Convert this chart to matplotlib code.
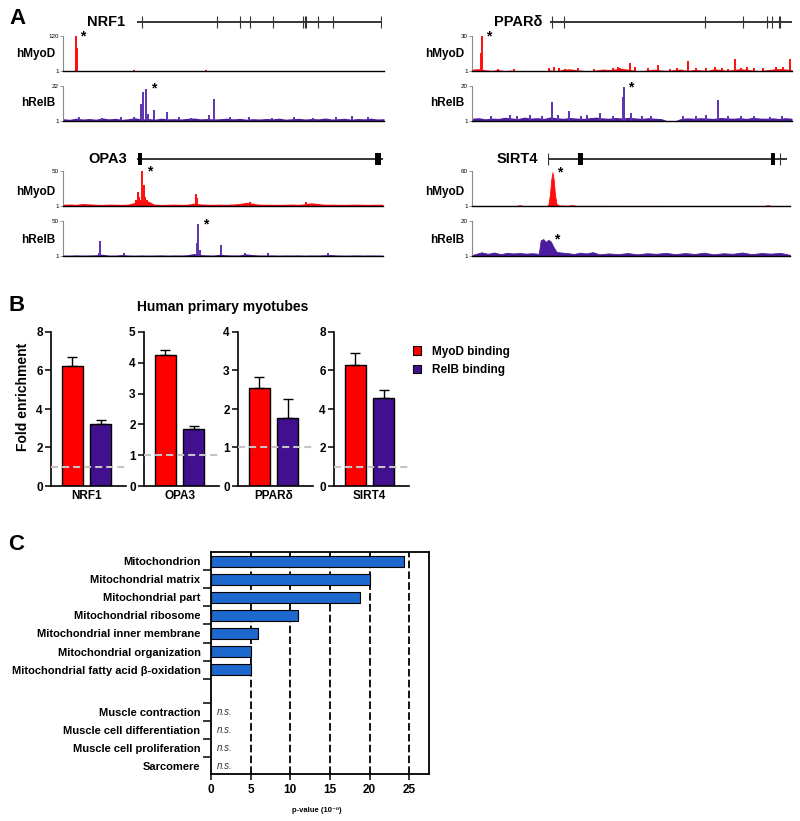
import matplotlib
matplotlib.use('Agg')
import matplotlib.pyplot as plt
import numpy as np
from matplotlib.patches import Patch

plt.rcParams['font.family'] = ['Liberation Sans', 'DejaVu Sans']

W, H = 800, 821
fig = plt.figure(figsize=(8, 8.21), dpi=100)


def px_axes(l, t, r, b):
    return fig.add_axes([l / W, 1 - b / H, (r - l) / W, (b - t) / H])


def ftext(x, y, s, **kw):
    fig.text(x / W, 1 - y / H, s, **kw)


RED = '#ff0d0d'
PURPLE = '#40108f'
TRACK_PURPLE = '#4b1d9e'
BLUE = '#1d68cc'

# ---------------- Panel A data ----------------
gene_names = ['NRF1', 'PPARδ', 'OPA3', 'SIRT4']
nrf1_exon_ticks = [2.0, 32.7, 42.0, 46.1, 55.5, 67.8, 68.4, 69.0, 73.9, 80.0, 99.6]
ppard_exon_ticks = [0.8, 5.8, 64.0, 79.8, 89.7, 91.7, 94.6, 95.0]
opa3_exon_ticks = []
opa3_box_pos = [1.2, 98.0]
opa3_box_width = [1.6, 2.4]
sirt4_exon_ticks = [0.0, 97.1]
sirt4_box_pos = [13.6, 94.1]
sirt4_box_width = [2.1, 1.7]

track_max = {'NRF1': (120, 22), 'PPARδ': (30, 20), 'OPA3': (50, 50), 'SIRT4': (60, 20)}

nrf1_myod_bg = [2.0, 1.8, 2.2, 1.9, 2.1, 2.0, 1.8, 2.3, 2.0, 1.9, 2.2, 2.0, 1.9, 2.1,
                2.0, 2.2, 1.8, 2.0, 2.1, 1.9]
nrf1_myod_pk_pos = [4.0, 4.25, 22.0, 44.5, 48.5, 84.0]
nrf1_myod_pk_val = [120, 80, 3.5, 3.0, 2.5, 2.5]

nrf1_relb_bg = [2.4, 2.0, 2.7, 2.2, 2.5, 2.1, 2.8, 2.3, 2.6, 2.0, 2.4, 2.9, 2.2, 2.5, 2.1,
                2.7, 2.3, 2.4, 2.2, 2.6, 2.8, 2.3, 2.5, 2.2, 2.4, 2.7, 2.3, 2.6, 2.1, 2.4,
                2.2, 2.5, 2.3, 2.7, 2.1, 2.4, 2.6, 2.2, 2.5, 2.3, 2.8, 2.2, 2.4, 2.6, 2.1,
                2.5, 2.3, 2.7, 2.2, 2.4]
nrf1_relb_pk_pos = [5.0, 12.0, 18.0, 22.2, 24.2, 24.8, 26.0, 26.5, 28.4, 32.3, 36.0, 40.0,
                    45.6, 46.9, 52.0, 58.0, 65.0, 72.0, 78.0, 85.0, 90.1, 95.0]
nrf1_relb_pk_val = [3.2, 3.0, 3.3, 3.6, 11.0, 18.6, 20.4, 5.0, 7.6, 6.4, 3.2, 3.0, 4.6, 14.4,
                    3.1, 3.3, 3.0, 3.2, 3.0, 3.3, 4.0, 3.1]

ppard_myod_bg = [2.5, 3.0, 2.0, 1.5, 2.2, 1.3, 1.8, 1.2, 1.5, 1.2, 1.3, 1.2, 1.8, 1.2, 2.5,
                 2.8, 2.0, 1.5, 1.3, 1.8, 2.6, 2.2, 2.8, 3.2, 2.4, 1.5, 1.3, 2.0, 2.5, 1.8,
                 1.5, 2.2, 2.6, 1.4, 2.3, 2.0, 1.5, 2.8, 2.4, 1.6, 2.2, 2.9, 2.5, 1.8, 1.4,
                 2.0, 2.6, 3.0, 2.7, 2.0]
ppard_myod_pk_pos = [2.9, 3.2, 8.0, 13.0, 24.0, 25.5, 27.1, 29.0, 33.0, 38.0, 44.0, 45.5,
                     46.4, 49.3, 51.0, 55.0, 58.0, 62.0, 64.0, 67.4, 70.0, 73.0, 76.0, 78.0,
                     80.0, 82.3, 84.0, 86.0, 88.0, 91.0, 95.0, 97.2, 99.5]
ppard_myod_pk_val = [15.6, 30.0, 3.0, 2.8, 3.5, 4.0, 3.8, 3.0, 3.2, 2.8, 3.5, 4.2, 3.2, 7.4,
                     4.0, 3.3, 6.0, 3.0, 3.5, 9.6, 3.8, 3.2, 4.0, 3.4, 3.0, 10.7, 3.6, 4.2,
                     3.3, 3.5, 4.0, 4.6, 11.2]

ppard_relb_bg = [2.5, 2.8, 2.2, 2.6, 2.4, 3.0, 2.7, 2.3, 3.1, 2.6, 2.8, 2.4, 3.2, 2.7, 2.5,
                 2.9, 2.6, 2.4, 2.8, 3.1, 2.7, 2.5, 2.9, 2.6, 3.0, 2.7, 2.4, 2.8, 2.5, 2.3,
                 1.0, 1.0, 2.4, 2.7, 2.5, 2.8, 2.6, 2.4, 2.9, 2.7, 2.5, 2.8, 2.4, 3.0, 2.6,
                 2.5, 2.7, 2.4, 2.8, 2.5]
ppard_relb_pk_pos = [6.0, 11.8, 14.0, 18.0, 22.0, 25.0, 27.0, 30.2, 34.0, 36.0, 40.1, 44.0,
                     47.2, 47.4, 49.8, 53.0, 56.0, 66.0, 70.0, 73.0, 76.9, 80.0, 84.0, 88.0,
                     93.2, 97.0]
ppard_relb_pk_val = [3.6, 4.3, 3.8, 4.0, 3.5, 11.1, 4.2, 6.4, 3.9, 4.1, 5.5, 3.8, 13.8, 19.3,
                     5.2, 3.7, 3.9, 3.6, 3.8, 4.0, 12.4, 3.9, 3.6, 3.8, 3.4, 3.7]

opa3_myod_bg = [3.5, 3.8, 3.3, 4.5, 4.0, 3.4, 3.2, 3.6, 3.5, 3.3, 3.7, 6.0, 7.0, 8.0, 3.5,
                3.2, 3.4, 3.6, 3.3, 3.5, 5.0, 4.0, 3.5, 3.4, 3.6, 3.3, 3.8, 4.5, 6.0, 5.0,
                3.6, 3.5, 3.4, 3.3, 3.5, 3.7, 3.4, 4.0, 5.5, 4.5, 3.6, 3.5, 3.4, 3.3, 3.5,
                3.6, 3.4, 3.3, 3.5, 3.4]
opa3_myod_pk_pos = [22.8, 23.1, 23.4, 23.9, 24.2, 24.8, 25.2, 25.7, 26.1, 41.5, 41.9, 58.3, 76.0]
opa3_myod_pk_val = [9.0, 10.0, 20.9, 14.0, 10.0, 50.0, 30.0, 14.0, 9.0, 17.7, 12.0, 7.0, 7.0]

opa3_relb_bg = [2.3, 2.1, 2.5, 2.2, 2.4, 2.7, 3.5, 2.3, 2.2, 3.0, 2.3, 2.1, 2.4, 2.2, 2.3,
                2.5, 2.2, 2.4, 2.3, 2.7, 4.5, 3.0, 2.5, 2.3, 3.5, 2.7, 2.4, 2.5, 4.0, 3.0,
                2.4, 2.3, 2.5, 2.2, 2.4, 2.3, 2.5, 2.2, 2.4, 2.3, 2.7, 3.0, 2.4, 2.2, 2.3,
                2.5, 2.2, 2.4, 2.3, 2.2]
opa3_relb_pk_pos = [11.4, 11.7, 19.0, 41.9, 42.3, 42.7, 49.3, 56.8, 64.1, 82.8]
opa3_relb_pk_val = [5.0, 21.8, 4.7, 18.6, 45.4, 10.0, 16.3, 5.6, 4.7, 4.7]

sirt4_myod_pos = [0, 14, 15, 16, 23.5, 24.0, 24.5, 24.9, 25.3, 25.7, 26.1, 26.6, 27.5, 30,
                  31.5, 33, 92, 93, 94, 100]
sirt4_myod_val = [1.2, 1.2, 2.5, 1.2, 1.2, 3, 20, 45, 58, 45, 20, 4, 2, 1.5, 2.5, 1.3, 1.2,
                  2.5, 1.2, 1.2]

sirt4_relb_pos = [0, 3, 5, 7, 9, 11, 13, 15, 17, 19, 21, 21.6, 22.4, 23.2, 24.0, 24.8, 25.6,
                  26.6, 28, 30, 32, 34, 36, 38, 40, 43, 46, 49, 52, 55, 58, 61, 64, 67, 70,
                  73, 76, 79, 82, 85, 88, 91, 94, 97, 100]
sirt4_relb_val = [1.5, 3.0, 2.2, 2.9, 2.0, 2.7, 2.4, 2.6, 2.3, 2.5, 2.2, 9.5, 10.2, 8.6, 9.8,
                  8.8, 6.0, 3.2, 2.9, 2.6, 2.1, 2.8, 2.4, 3.1, 1.9, 2.4, 2.0, 2.6, 1.9, 2.5,
                  2.2, 2.7, 2.0, 2.6, 2.1, 2.8, 1.9, 2.5, 2.2, 2.9, 2.0, 2.6, 2.3, 2.7, 1.6]

# asterisk anchor (track position, value)
star_nrf1 = [(4.0, 120), (26.0, 20.4)]
star_ppard = [(3.2, 30), (47.4, 19.3)]
star_opa3 = [(24.8, 50), (42.3, 45.4)]
star_sirt4 = [(25.3, 58), (24.5, 10.2)]


def style_track(ax, ymax):
    ax.set_xlim(0, 100)
    ax.set_ylim(1, ymax)
    for s in ['top', 'right']:
        ax.spines[s].set_visible(False)
    ax.spines['bottom'].set_color('black')
    ax.spines['bottom'].set_linewidth(1.0)
    ax.spines['left'].set_color('#8a8a8a')
    ax.spines['left'].set_linewidth(0.8)
    ax.set_xticks([])
    ax.set_yticks([1, ymax], ['1', str(ymax)])
    ax.tick_params(axis='y', length=2, width=0.6, pad=1, labelsize=4.5, color='#8a8a8a')
    ax.patch.set_alpha(0)


def add_star(ax, star):
    ax.annotate('*', xy=star, xytext=(3, 0), textcoords='offset points',
                ha='left', va='center', fontsize=10, fontweight='bold')


def spike_track(ax, ymax, bg, pk_pos, pk_val, color, spike_color, star):
    xs = np.linspace(0, 100, len(bg))
    ax.fill_between(xs, 1, bg, color=color, lw=0)
    ax.vlines(pk_pos, 1, pk_val, color=spike_color, lw=1.4)
    style_track(ax, ymax)
    add_star(ax, star)


def profile_track(ax, ymax, pos, val, color, star):
    ax.fill_between(pos, 1, val, color=color, lw=0.6, edgecolor=color)
    style_track(ax, ymax)
    add_star(ax, star)


def gene_axes(l, t, r, b, ticks, box_pos=None, box_w=None):
    ax = px_axes(l, t, r, b)
    ax.set_xlim(0, 100)
    ax.set_ylim(-1, 1)
    ax.axis('off')
    ax.hlines(0, 0, 100, color='black', lw=1.1)
    if ticks:
        ax.vlines(ticks, -0.8, 0.8, color='#333333', lw=0.8)
    if box_pos:
        ax.bar(box_pos, 1.5, bottom=-0.75, width=box_w, color='black', lw=0)
    return ax


# Gene structures
gene_axes(137, 14, 382, 30, nrf1_exon_ticks)
gene_axes(550, 14, 792, 30, ppard_exon_ticks)
gene_axes(137, 151, 383, 167, opa3_exon_ticks, opa3_box_pos, opa3_box_width)
gene_axes(548, 151, 787, 167, sirt4_exon_ticks, sirt4_box_pos, sirt4_box_width)

ftext(125, 22, gene_names[0], ha='right', va='center', fontsize=10.5, fontweight='bold')
ftext(542, 22, gene_names[1], ha='right', va='center', fontsize=10.5, fontweight='bold')
ftext(127, 159, gene_names[2], ha='right', va='center', fontsize=10.5, fontweight='bold')
ftext(538, 159, gene_names[3], ha='right', va='center', fontsize=10.5, fontweight='bold')

# Tracks
ax = px_axes(63, 36, 384, 71)
spike_track(ax, track_max['NRF1'][0], nrf1_myod_bg, nrf1_myod_pk_pos, nrf1_myod_pk_val,
            '#a01010', RED, star_nrf1[0])
ax = px_axes(63, 86, 384, 121)
spike_track(ax, track_max['NRF1'][1], nrf1_relb_bg, nrf1_relb_pk_pos, nrf1_relb_pk_val,
            TRACK_PURPLE, '#5c33b0', star_nrf1[1])
ax = px_axes(472, 36, 792, 71)
spike_track(ax, track_max['PPARδ'][0], ppard_myod_bg, ppard_myod_pk_pos, ppard_myod_pk_val,
            RED, RED, star_ppard[0])
ax = px_axes(472, 86, 792, 121)
spike_track(ax, track_max['PPARδ'][1], ppard_relb_bg, ppard_relb_pk_pos, ppard_relb_pk_val,
            TRACK_PURPLE, '#5c33b0', star_ppard[1])
ax = px_axes(63, 171, 383, 206)
spike_track(ax, track_max['OPA3'][0], opa3_myod_bg, opa3_myod_pk_pos, opa3_myod_pk_val,
            RED, RED, star_opa3[0])
ax = px_axes(63, 221, 383, 256)
spike_track(ax, track_max['OPA3'][1], opa3_relb_bg, opa3_relb_pk_pos, opa3_relb_pk_val,
            TRACK_PURPLE, '#5c33b0', star_opa3[1])
ax = px_axes(472, 171, 790, 206)
profile_track(ax, track_max['SIRT4'][0], sirt4_myod_pos, sirt4_myod_val, RED, star_sirt4[0])
ax = px_axes(472, 221, 790, 256)
profile_track(ax, track_max['SIRT4'][1], sirt4_relb_pos, sirt4_relb_val, TRACK_PURPLE,
              star_sirt4[1])

for (xr, ym, yr) in [(55, 54, 103), (464, 54, 103), (55, 192, 240), (464, 192, 240)]:
    ftext(xr, ym, 'hMyoD', ha='right', va='center', fontsize=8.5, fontweight='bold')
    ftext(xr, yr, 'hRelB', ha='right', va='center', fontsize=8.5, fontweight='bold')

# ---------------- Panel B ----------------
b_genes = ['NRF1', 'OPA3', 'PPARδ', 'SIRT4']
myod_fold = [6.25, 4.26, 2.55, 6.29]
myod_err = [0.43, 0.16, 0.29, 0.64]
relb_fold = [3.22, 1.86, 1.77, 4.55]
relb_err = [0.21, 0.09, 0.50, 0.44]
b_ymax = [8, 5, 4, 8]
b_ystep = [2, 1, 1, 2]
b_lefts = [51, 144, 238, 334]

for i, g in enumerate(b_genes):
    ax = px_axes(b_lefts[i], 332, b_lefts[i] + 75, 486)
    ax.bar([0], [myod_fold[i]], width=0.74, color='#ff0000', edgecolor='black', lw=1.0, zorder=2)
    ax.bar([1], [relb_fold[i]], width=0.74, color=PURPLE, edgecolor='black', lw=1.0, zorder=2)
    ax.errorbar([0, 1], [myod_fold[i], relb_fold[i]],
                yerr=[[0, 0], [myod_err[i], relb_err[i]]], fmt='none', ecolor='black',
                elinewidth=1.0, capsize=3.5, capthick=1.0, zorder=3)
    ax.axhline(1, color='#c4c4c4', lw=1.5, dashes=(3.4, 1.9), zorder=4)
    ax.set_xlim(-0.76, 1.9)
    ax.set_ylim(0, b_ymax[i])
    ax.set_yticks(np.arange(0, b_ymax[i] + 1, b_ystep[i]))
    ax.set_xticks([0.5], [g])
    for s in ['top', 'right']:
        ax.spines[s].set_visible(False)
    for s in ['left', 'bottom']:
        ax.spines[s].set_linewidth(1.2)
    ax.tick_params(axis='y', length=4, width=1.1, labelsize=8.5, pad=2)
    ax.tick_params(axis='x', length=0, labelsize=8.5, pad=3)
    for lab in ax.get_xticklabels() + ax.get_yticklabels():
        lab.set_fontweight('bold')

ftext(223, 307, 'Human primary myotubes', ha='center', va='center', fontsize=10,
      fontweight='bold')
ftext(23, 397, 'Fold enrichment', ha='center', va='center', rotation=90, fontsize=10,
      fontweight='bold')
fig.legend(handles=[Patch(facecolor='#ff0000', edgecolor='black', lw=0.8),
                    Patch(facecolor=PURPLE, edgecolor='black', lw=0.8)],
           labels=['MyoD binding', 'RelB binding'], loc='upper left',
           bbox_to_anchor=(408 / W, 1 - 341 / H), frameon=False,
           prop={'weight': 'bold', 'size': 8.5}, handlelength=0.7, handleheight=0.7,
           handletextpad=0.9, labelspacing=0.55, borderaxespad=0)

# ---------------- Panel C ----------------
go_terms = ['Mitochondrion', 'Mitochondrial matrix', 'Mitochondrial part',
            'Mitochondrial ribosome', 'Mitochondrial inner membrane',
            'Mitochondrial organization', 'Mitochondrial fatty acid β-oxidation']
go_values = [24.3, 20.1, 18.8, 11.0, 5.9, 5.1, 5.1]
ns_terms = ['Muscle contraction', 'Muscle cell differentiation', 'Muscle cell proliferation',
            'Sarcomere']
c_xticks = [0, 5, 10, 15, 20, 25]

axc = px_axes(211, 552, 429, 774)
bar_rows = np.arange(len(go_terms))
ns_rows = len(go_terms) + 4 / 3 + np.arange(len(ns_terms))
for xv in c_xticks[1:]:
    axc.axvline(xv, color='black', lw=1.3, dashes=(4.2, 1.8), zorder=1)
axc.barh(bar_rows, go_values, height=0.63, color=BLUE, edgecolor='black', lw=0.8, zorder=3)
for r in ns_rows:
    axc.text(0.75, r, 'n.s.', style='italic', fontsize=7, color='#333333', va='center',
             ha='left')
axc.set_xlim(0, 27.5)
axc.set_ylim(ns_rows[-1] + 0.46, -0.52)
axc.set_xticks(c_xticks)
axc.set_yticks(list(bar_rows + 0.5) + list(ns_rows - 0.5))
axc.set_yticklabels([])
axc.set_yticks(list(bar_rows) + list(ns_rows), go_terms + ns_terms, minor=True)
axc.tick_params(axis='y', which='major', length=6, width=1.1)
axc.tick_params(axis='y', which='minor', length=0, pad=7.5, labelsize=8)
axc.tick_params(axis='x', length=4, width=1.1, labelsize=8.5, pad=3)
for lab in axc.get_xticklabels() + axc.get_yticklabels(minor=True):
    lab.set_fontweight('bold')
for s in axc.spines.values():
    s.set_linewidth(1.3)
ftext(317, 810, 'p-value (10⁻ⁿ)', ha='center', va='center', fontsize=5.5, fontweight='bold')

# Panel letters
ftext(17, 18, 'A', ha='center', va='center', fontsize=16, fontweight='bold')
ftext(17, 305, 'B', ha='center', va='center', fontsize=16, fontweight='bold')
ftext(16, 545, 'C', ha='center', va='center', fontsize=16, fontweight='bold')

fig.savefig('out.png', dpi=100)
